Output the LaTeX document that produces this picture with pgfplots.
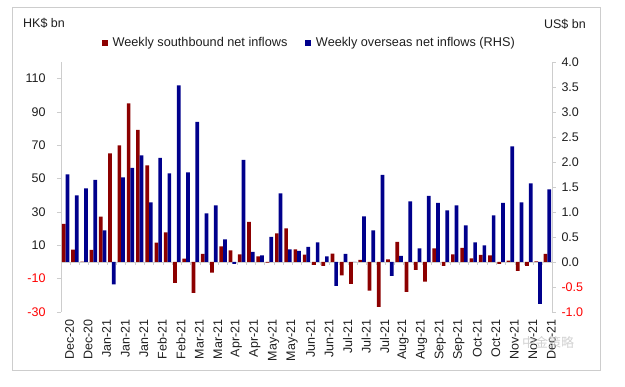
\documentclass[border=0pt]{standalone}
\usepackage{fontspec}
\setmainfont{Liberation Sans}
\newfontfamily\cjk{Noto Sans CJK SC}
\usepackage{pgfplots}
\pgfplotsset{compat=1.18}
\definecolor{sbred}{RGB}{140,0,0}
\definecolor{osblue}{RGB}{0,0,140}
\definecolor{axgray}{RGB}{205,205,205}
\definecolor{txt}{RGB}{30,30,30}
\newcommand{\fs}{\fontsize{12.5}{15}\selectfont}
\begin{document}
\begin{tikzpicture}
\path[use as bounding box] (-61pt,-75pt) rectangle (564pt,312pt);
\draw[axgray, line width=1pt] (-48pt,304pt) rectangle (539pt,-59pt);
\node[anchor=west, inner sep=0pt, font=\fs, text=txt] at (-38pt,289pt) {HK\$ bn};
\node[anchor=east, inner sep=0pt, font=\fs, text=txt] at (525pt,288pt) {US\$ bn};
\begin{axis}[
  at={(0pt,0pt)}, anchor=south west,
  width=491pt, height=250pt, scale only axis,
  ybar, bar width=0.4,
  xmin=-0.5, xmax=52.5, ymin=-30, ymax=120,
  axis y line*=left, axis x line*=bottom,
  x axis line style={draw=none},
  y axis line style={-, axgray, line width=0.8pt},
  xtick={0,2,...,52},
  xticklabels={Dec-20,Dec-20,Jan-21,Jan-21,Jan-21,Feb-21,Feb-21,Mar-21,Mar-21,Apr-21,Apr-21,May-21,May-21,Jun-21,Jun-21,Jul-21,Jul-21,Jul-21,Aug-21,Aug-21,Sep-21,Sep-21,Oct-21,Oct-21,Nov-21,Nov-21,Dec-21},
  xticklabel style={rotate=90, anchor=east, font=\fs, text=txt, yshift=-4pt},
  major x tick style={draw=none},
  ytick={-30,-10,...,110},
  yticklabels={\textcolor{red}{-30},\textcolor{red}{-10},10,30,50,70,90,110},
  yticklabel style={font=\fs, text=txt, xshift=-8pt},
  ytick style={axgray, line width=0.8pt},
  tick align=outside, major tick length=4pt,
  legend image code/.code={\fill[#1] (0pt,-2.8pt) rectangle (5.6pt,2.8pt); \path (0pt,0pt) (8.6pt,0pt);},
  legend style={at={(0.083,1.076)}, anchor=west, draw=none, fill=none,
    font=\fontsize{12.7}{15}\selectfont, text=txt, inner sep=0pt,
    /tikz/every even column/.append style={column sep=16pt}},
  legend columns=2,
]
\draw[axgray, line width=0.8pt] (axis cs:-0.5,0) -- (axis cs:52.5,0);
\pgfplotsinvokeforeach{0,...,51}{\draw[axgray, line width=0.8pt] (axis cs:#1+0.5,0) -- ++(0pt,-3.5pt);}
\addplot[fill=sbred, draw=none, bar shift=-0.2] coordinates {
(0,22.8)(1,7.4)(2,0.2)(3,7.2)(4,27.2)(5,65.2)(6,70)(7,95.2)(8,79.2)(9,58)
(10,11.6)(11,17.8)(12,-12.6)(13,2)(14,-18.6)(15,4.8)(16,-6.4)(17,9.4)(18,7)(19,4.6)
(20,24)(21,3.4)(22,-0.4)(23,17.2)(24,20.2)(25,7.6)(26,4.4)(27,-1.8)(28,-2.4)(29,5)
(30,-8)(31,-13.2)(32,1.2)(33,-17.2)(34,-27)(35,1.6)(36,12)(37,-18)(38,-4.8)(39,-11.8)
(40,8.2)(41,-2.4)(42,4.6)(43,8.4)(44,2.2)(45,4.2)(46,4)(47,-1.2)(48,0.8)(49,-5.4)
(50,-2.4)(51,0.3)(52,4.8)};
\addlegendentry{Weekly southbound net inflows}
\addlegendimage{fill=osblue, draw=none}
\addlegendentry{Weekly overseas net inflows (RHS)}
\end{axis}
\begin{axis}[
  at={(0pt,0pt)}, anchor=south west,
  width=491pt, height=250pt, scale only axis,
  ybar, bar width=0.4,
  xmin=-0.5, xmax=52.5, ymin=-1, ymax=4,
  axis x line=none, axis y line*=right,
  y axis line style={-, axgray, line width=0.8pt},
  ytick={-1,-0.5,0,0.5,1,1.5,2,2.5,3,3.5,4},
  yticklabels={\textcolor{red}{-1.0},\textcolor{red}{-0.5},0.0,0.5,1.0,1.5,2.0,2.5,3.0,3.5,4.0},
  yticklabel style={font=\fs, text=txt, xshift=2pt},
  ytick style={axgray, line width=0.8pt},
  tick align=outside, major tick length=4pt,
]
\addplot[fill=osblue, draw=none, bar shift=0.2] coordinates {
(0,1.75)(1,1.33)(2,1.47)(3,1.64)(4,0.63)(5,-0.45)(6,1.69)(7,1.88)(8,2.13)(9,1.19)
(10,2.08)(11,1.77)(12,3.53)(13,1.79)(14,2.80)(15,0.97)(16,1.13)(17,0.45)(18,-0.04)(19,2.04)
(20,0.20)(21,0.13)(22,0.50)(23,1.37)(24,0.25)(25,0.22)(26,0.30)(27,0.39)(28,0.11)(29,-0.48)
(30,0.16)(31,0)(32,0.91)(33,0.63)(34,1.74)(35,-0.28)(36,0.12)(37,1.21)(38,0.27)(39,1.32)
(40,1.18)(41,1.03)(42,1.13)(43,0.73)(44,0.39)(45,0.33)(46,0.93)(47,1.18)(48,2.31)(49,1.19)
(50,1.57)(51,-0.84)(52,1.45)};
\end{axis}
\node[font=\cjk\fontsize{13}{15}\selectfont, text=gray!45, opacity=0.8] at (487pt,-31pt) {中金策略};
\end{tikzpicture}
\end{document}
